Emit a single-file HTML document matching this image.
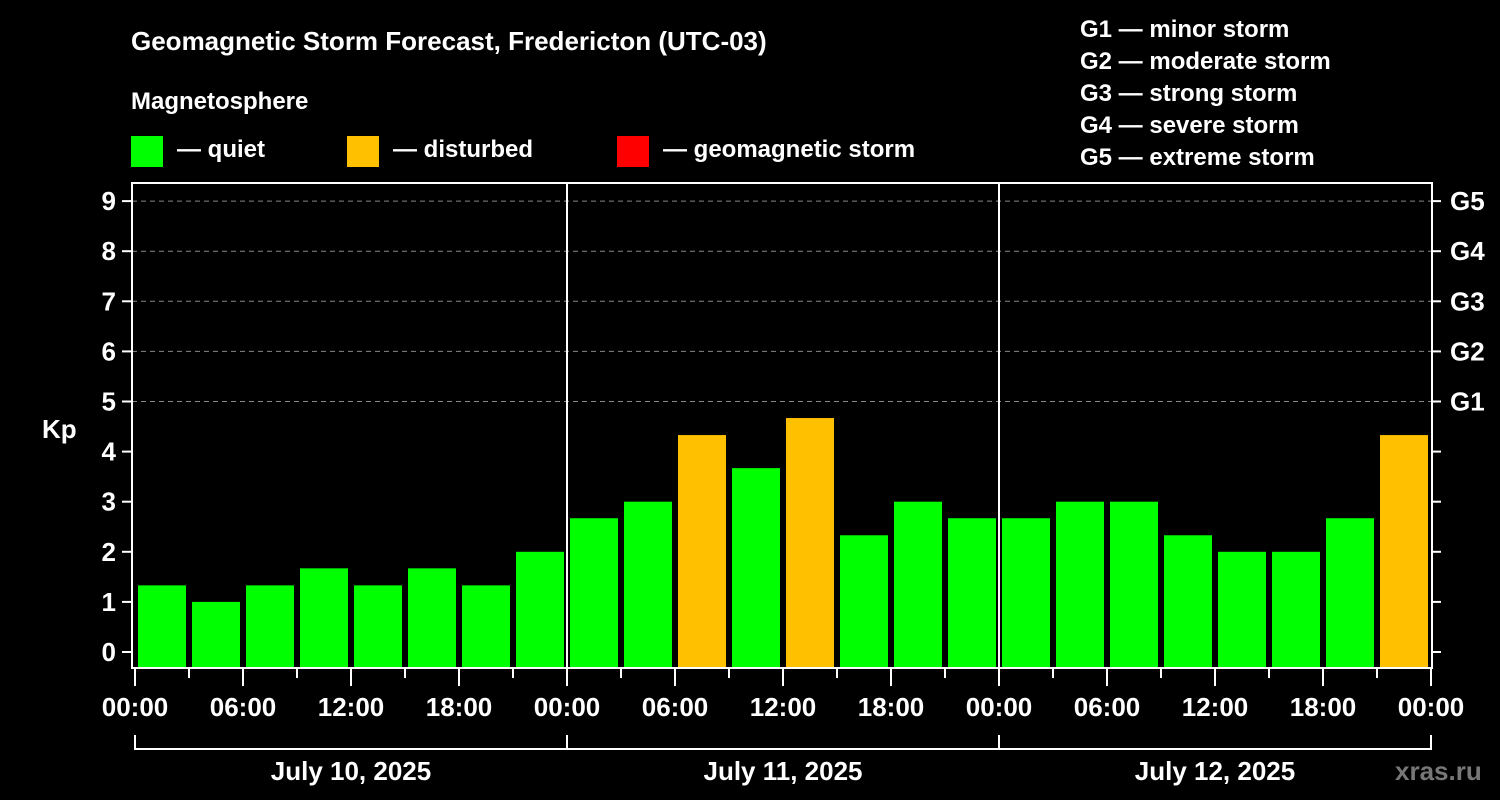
<!DOCTYPE html>
<html><head><meta charset="utf-8"><style>
body{margin:0;background:#000;}
svg{display:block;font-family:"Liberation Sans",Arial,sans-serif;font-weight:bold;}
</style></head><body>
<svg id="c" width="1500" height="800" viewBox="0 0 1500 800">
<rect width="1500" height="800" fill="#000"/>
<text x="131" y="50" fill="#fff" font-size="26">Geomagnetic Storm Forecast, Fredericton (UTC-03)</text>
<text x="131" y="109" fill="#fff" font-size="24">Magnetosphere</text>
<g><rect x="131" y="136" width="32" height="31" fill="#00ff00"/><text x="177" y="157" fill="#fff" font-size="24">— quiet</text></g>
<g><rect x="347" y="136" width="32" height="31" fill="#ffc000"/><text x="393" y="157" fill="#fff" font-size="24">— disturbed</text></g>
<g><rect x="617" y="136" width="32" height="31" fill="#ff0000"/><text x="663" y="157" fill="#fff" font-size="24">— geomagnetic storm</text></g>
<g fill="#fff" font-size="24">
<text x="1080" y="37">G1 — minor storm</text><text x="1080" y="69">G2 — moderate storm</text><text x="1080" y="101">G3 — strong storm</text><text x="1080" y="133">G4 — severe storm</text><text x="1080" y="165">G5 — extreme storm</text>
</g>
<text x="42" y="438" fill="#fff" font-size="26">Kp</text>
<text x="1395" y="780" fill="#777" font-size="26">xras.ru</text>
<g id="grid"></g><g id="bars"></g><g id="axes"></g>
</svg>
<script>
const kpValues=[1.33,1,1.33,1.67,1.33,1.67,1.33,2, 2.67,3,4.33,3.67,4.67,2.33,3,2.67, 2.67,3,3,2.33,2,2,2.67,4.33];
const yTicks=[0,1,2,3,4,5,6,7,8,9];
const gLabels=["G1","G2","G3","G4","G5"];
const gLevels=[5,6,7,8,9];
const xTickLabels=["00:00","06:00","12:00","18:00","00:00","06:00","12:00","18:00","00:00","06:00","12:00","18:00","00:00"];
const dayLabels=["July 10, 2025","July 11, 2025","July 12, 2025"];
const NS="http://www.w3.org/2000/svg";
const x0=135,slot=54,yZero=652,unit=50.1,plotTop=183,plotBot=668,plotL=132,plotR=1432;
const xs=i=>x0+i*slot, ys=v=>yZero-v*unit;
function mk(p,t,a){const e=document.createElementNS(NS,t);for(const k in a)e.setAttribute(k,a[k]);p.appendChild(e);return e;}
const grid=document.getElementById('grid'),bars=document.getElementById('bars'),axes=document.getElementById('axes');
yTicks.forEach(v=>{
 if(v>=5){const l=mk(grid,'line',{x1:plotL,x2:plotR,y1:ys(v),y2:ys(v),stroke:'#888','stroke-dasharray':'5,4','stroke-width':1});
 
 }
 const t=mk(axes,'line',{x1:122,x2:plotL,y1:ys(v),y2:ys(v),stroke:'#fff','stroke-width':2});
 
 
 const r=mk(axes,'line',{x1:plotR,x2:plotR+9,y1:ys(v),y2:ys(v),stroke:'#fff','stroke-width':2});
 
 
 const tx=mk(axes,'text',{x:116,y:ys(v)+9,fill:'#fff','font-size':26,'text-anchor':'end'});tx.textContent=v;
 
 
});
gLabels.forEach((g,i)=>{const t=mk(axes,'text',{x:1450,y:ys(gLevels[i])+9,fill:'#fff','font-size':26});t.textContent=g;
 
 });
kpValues.forEach((v,i)=>{
 const c=v>=5?'#ff0000':(v>=4?'#ffc000':'#00ff00');
 const b=mk(bars,'rect',{x:xs(i)+3,y:ys(v),width:48,height:plotBot-ys(v),fill:c});
 
 
});
mk(axes,'rect',{x:plotL,y:plotTop,width:plotR-plotL,height:plotBot-plotTop,fill:'none',stroke:'#fff','stroke-width':2});
[1,2].forEach(d=>{const l=mk(axes,'line',{x1:xs(d*8),x2:xs(d*8),y1:plotTop,y2:plotBot,stroke:'#fff','stroke-width':2});
 
 });
for(let i=0;i<=24;i++){const major=i%2==0;
 const t=mk(axes,'line',{x1:xs(i),x2:xs(i),y1:plotBot,y2:major?686:678,stroke:'#fff','stroke-width':2});
 
 }
xTickLabels.forEach((s,i)=>{const t=mk(axes,'text',{x:xs(i*2),y:716,fill:'#fff','font-size':26,'text-anchor':'middle'});t.textContent=s;
 
 });
mk(axes,'path',{d:`M${xs(0)},735V749H${xs(24)}V735`,fill:'none',stroke:'#fff','stroke-width':2});
[1,2].forEach(d=>mk(axes,'line',{x1:xs(d*8),x2:xs(d*8),y1:735,y2:749,stroke:'#fff','stroke-width':2}));
dayLabels.forEach((s,d)=>{const t=mk(axes,'text',{x:xs(d*8+4),y:780,fill:'#fff','font-size':26,'text-anchor':'middle'});t.textContent=s;
 
 });
</script>
</body></html>
